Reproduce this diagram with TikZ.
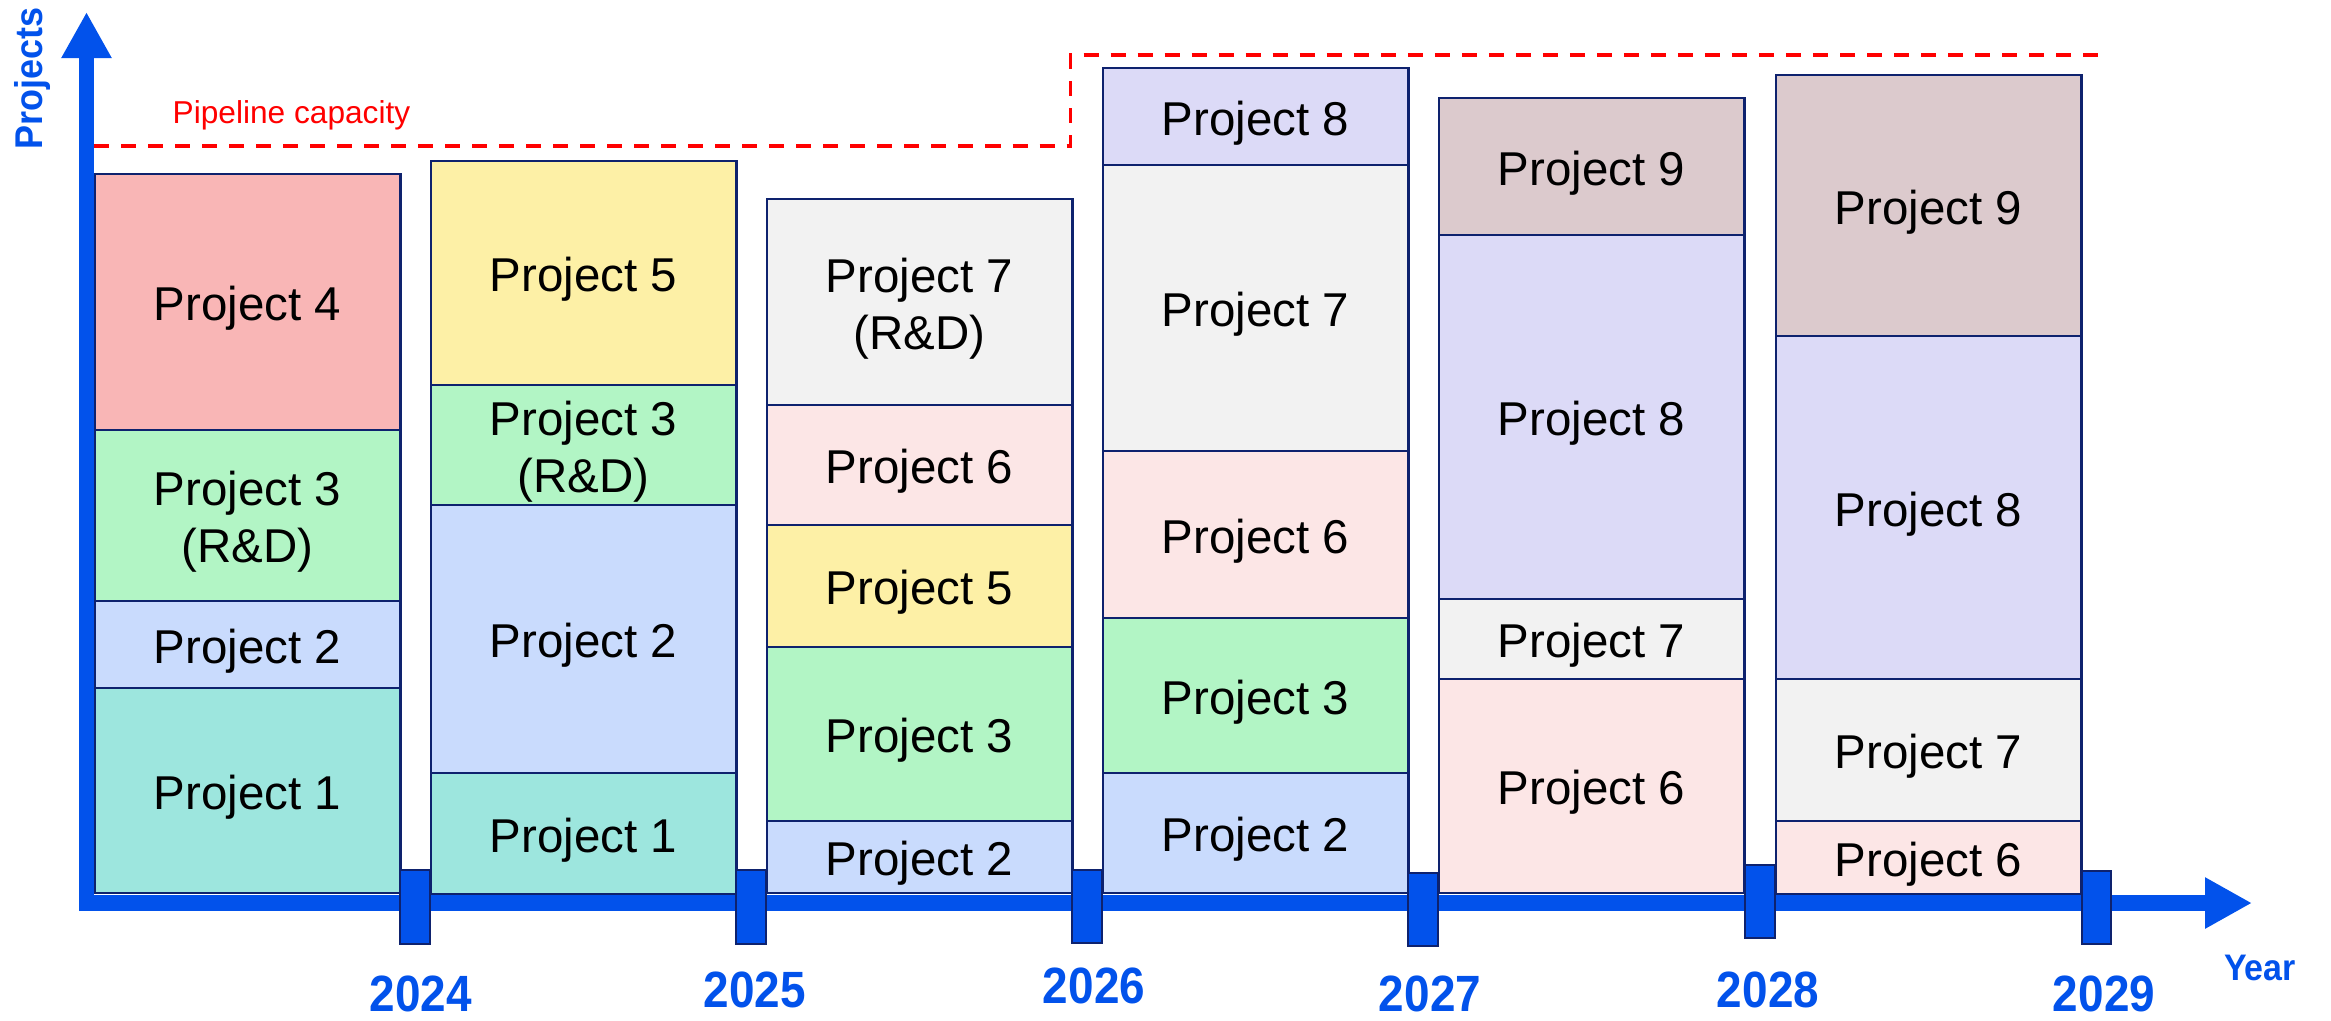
\documentclass[tikz,border=0pt]{standalone}
\usepackage{fontspec}
\setmainfont{Liberation Sans}
\usepackage{graphicx}
\usetikzlibrary{arrows.meta}
\definecolor{axisblue}{RGB}{2,82,235}
\definecolor{navy}{RGB}{14,34,110}
\definecolor{pone}{RGB}{157,230,222}
\definecolor{ptwo}{RGB}{201,219,253}
\definecolor{pthree}{RGB}{178,245,197}
\definecolor{pfour}{RGB}{249,182,182}
\definecolor{pfive}{RGB}{253,240,166}
\definecolor{psix}{RGB}{252,230,230}
\definecolor{pseven}{RGB}{242,242,242}
\definecolor{peight}{RGB}{220,218,247}
\definecolor{pnine}{RGB}{220,202,205}
\definecolor{capred}{RGB}{255,0,0}
\tikzset{
  pbox/.style={draw=navy, line width=0.8pt, rectangle, inner sep=0pt, outer sep=0pt},
  plabel/.style={align=center, font=\fontsize{13.5}{16.2}\selectfont, text=black,
    inner sep=0pt, yshift=-0.065cm},
  tickbox/.style={draw=navy, line width=0.8pt, fill=axisblue, rectangle, inner sep=0pt,
    outer sep=0pt},
  yearlbl/.style={text=axisblue, font=\fontsize{14.5}{17}\selectfont\bfseries,
    anchor=base, inner sep=0pt},
  axisline/.style={draw=axisblue},
  capline/.style={draw=capred, line width=1.1pt, dash pattern=on 0.15cm off 0.12cm},
}
\newcommand{\pbox}[6]{%
  \pgfmathsetmacro{\pbh}{(#4-#3)*0.01}%
  \pgfmathsetmacro{\pbx}{#2+152.5}%
  \pgfmathsetmacro{\pby}{(#3+#4)/2}%
  \node[pbox, fill=#5, minimum width=3.05cm, minimum height=\pbh cm,
    label={[plabel]center:#6}] (#1) at (\pbx,\pby) {};}
\newcommand{\tbox}[5]{%
  \pgfmathsetmacro{\tbw}{(#3-#2)*0.01}%
  \pgfmathsetmacro{\tbh}{(#5-#4)*0.01}%
  \pgfmathsetmacro{\tbx}{(#2+#3)/2}%
  \pgfmathsetmacro{\tby}{(#4+#5)/2}%
  \node[tickbox, minimum width=\tbw cm, minimum height=\tbh cm] (#1) at (\tbx,\tby) {};}
\begin{document}
\begin{tikzpicture}[x=0.01cm,y=-0.01cm]
\useasboundingbox (0,0) rectangle (2331,1020);
% axes
\coordinate (O) at (86.5,911);
\coordinate (Ytip) at (86.5,12);
\coordinate (Xs) at (79,903);
\coordinate (Xtip) at (2252,903);
\draw[axisline, line width=0.15cm, -{Triangle[length=0.46cm,width=0.47cm]}] (O) -- (Ytip);
\draw[axisline, line width=0.16cm, -{Triangle[length=0.47cm,width=0.48cm]}] (Xs) -- (Xtip);
% capacity line
\coordinate (c0) at (94,146);
\coordinate (c1) at (1070.5,146);
\coordinate (c2) at (1070.5,55);
\coordinate (c3) at (2110,55);
\draw[capline] (c0) -- (c1) -- (c2) -- (c3);
\node[text=capred, font=\fontsize{9}{11}\selectfont, anchor=base, inner sep=0pt] (caplbl) at (291.5,123) {Pipeline capacity};
% axis labels
\node[text=axisblue, font=\fontsize{11}{13}\selectfont\bfseries, rotate=90, inner sep=0pt] (ylbl) at (32,78) {\scalebox{0.93}[1]{Projects}};
\node[text=axisblue, font=\fontsize{10.5}{12}\selectfont\bfseries, anchor=base, inner sep=0pt] (xlbl) at (2260,980) {\scalebox{0.92}[1]{Year}};
% column 2024
\pbox{a4}{95}{174}{430}{pfour}{Project 4}
\pbox{a3}{95}{430}{601}{pthree}{Project 3\\(R\&D)}
\pbox{a2}{95}{601}{688}{ptwo}{Project 2}
\pbox{a1}{95}{688}{893}{pone}{Project 1}
% column 2025
\pbox{b5}{431}{161}{385}{pfive}{Project 5}
\pbox{b3}{431}{385}{505}{pthree}{Project 3\\(R\&D)}
\pbox{b2}{431}{505}{773}{ptwo}{Project 2}
\pbox{b1}{431}{773}{894}{pone}{Project 1}
% column 2026
\pbox{c7}{767}{199}{405}{pseven}{Project 7\\(R\&D)}
\pbox{c6}{767}{405}{525}{psix}{Project 6}
\pbox{c5}{767}{525}{647}{pfive}{Project 5}
\pbox{c3}{767}{647}{821}{pthree}{Project 3}
\pbox{c2}{767}{821}{893}{ptwo}{Project 2}
% column 2027
\pbox{d8}{1103}{68}{165}{peight}{Project 8}
\pbox{d7}{1103}{165}{451}{pseven}{Project 7}
\pbox{d6}{1103}{451}{618}{psix}{Project 6}
\pbox{d3}{1103}{618}{773}{pthree}{Project 3}
\pbox{d2}{1103}{773}{893}{ptwo}{Project 2}
% column 2028
\pbox{e9}{1439}{98}{235}{pnine}{Project 9}
\pbox{e8}{1439}{235}{599}{peight}{Project 8}
\pbox{e7}{1439}{599}{679}{pseven}{Project 7}
\pbox{e6}{1439}{679}{893}{psix}{Project 6}
% column 2029
\pbox{f9}{1776}{75}{336}{pnine}{Project 9}
\pbox{f8}{1776}{336}{679}{peight}{Project 8}
\pbox{f7}{1776}{679}{821}{pseven}{Project 7}
\pbox{f6}{1776}{821}{894}{psix}{Project 6}
% ticks
\tbox{t2024}{400}{430}{870}{944}
\tbox{t2025}{736}{766}{870}{944}
\tbox{t2026}{1072}{1102}{870}{943}
\tbox{t2027}{1408}{1438}{873}{946}
\tbox{t2028}{1745}{1775}{865}{938}
\tbox{t2029}{2082}{2111}{871}{944}
% year labels
\node[yearlbl] (y2024) at (421,1011) {\scalebox{0.9}[1]{2024}};
\node[yearlbl] (y2025) at (755,1007) {\scalebox{0.9}[1]{2025}};
\node[yearlbl] (y2026) at (1094,1003) {\scalebox{0.9}[1]{2026}};
\node[yearlbl] (y2027) at (1430,1011) {\scalebox{0.9}[1]{2027}};
\node[yearlbl] (y2028) at (1768,1007) {\scalebox{0.9}[1]{2028}};
\node[yearlbl] (y2029) at (2104,1011) {\scalebox{0.9}[1]{2029}};
\end{tikzpicture}
\end{document}
